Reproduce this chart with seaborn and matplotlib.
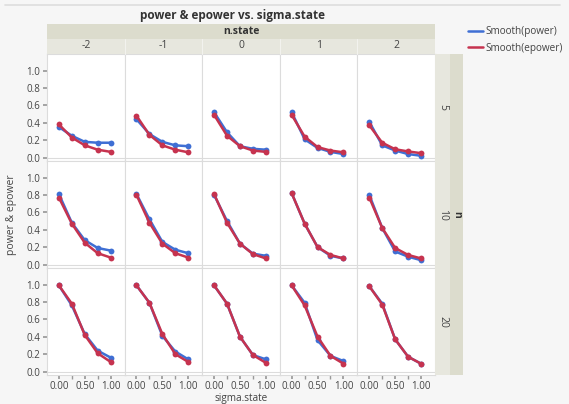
import numpy as np
import pandas as pd
import seaborn as sns
import matplotlib.pyplot as plt
from matplotlib.patches import Rectangle
from matplotlib.lines import Line2D

# data
sigma = [0.0, 0.25, 0.5, 0.75, 1.0]
n_state = [-2, -1, 0, 1, 2]
n_vals = [5, 10, 20]

power_n5 = [[0.35, 0.25, 0.18, 0.17, 0.17],
            [0.44, 0.27, 0.18, 0.14, 0.13],
            [0.52, 0.29, 0.13, 0.10, 0.09],
            [0.52, 0.21, 0.11, 0.065, 0.04],
            [0.41, 0.14, 0.08, 0.04, 0.02]]
epower_n5 = [[0.38, 0.23, 0.14, 0.09, 0.065],
             [0.48, 0.26, 0.14, 0.09, 0.06],
             [0.49, 0.25, 0.13, 0.08, 0.065],
             [0.49, 0.24, 0.12, 0.08, 0.06],
             [0.37, 0.17, 0.095, 0.07, 0.05]]
power_n10 = [[0.81, 0.48, 0.28, 0.19, 0.16],
             [0.81, 0.52, 0.26, 0.17, 0.13],
             [0.80, 0.50, 0.24, 0.125, 0.10],
             [0.82, 0.47, 0.20, 0.10, 0.07],
             [0.80, 0.42, 0.15, 0.09, 0.05]]
epower_n10 = [[0.77, 0.47, 0.25, 0.13, 0.08],
              [0.80, 0.48, 0.24, 0.13, 0.08],
              [0.81, 0.48, 0.24, 0.12, 0.07],
              [0.82, 0.47, 0.20, 0.11, 0.07],
              [0.77, 0.42, 0.19, 0.11, 0.07]]
power_n20 = [[0.99, 0.76, 0.43, 0.24, 0.16],
             [0.99, 0.79, 0.41, 0.23, 0.14],
             [0.99, 0.78, 0.40, 0.19, 0.14],
             [0.99, 0.79, 0.36, 0.18, 0.12],
             [0.98, 0.78, 0.37, 0.17, 0.09]]
epower_n20 = [[0.99, 0.78, 0.42, 0.21, 0.11],
              [0.99, 0.79, 0.43, 0.20, 0.11],
              [0.99, 0.78, 0.40, 0.19, 0.10],
              [0.99, 0.76, 0.40, 0.18, 0.09],
              [0.98, 0.77, 0.37, 0.17, 0.09]]

power = {5: power_n5, 10: power_n10, 20: power_n20}
epower = {5: epower_n5, 10: epower_n10, 20: epower_n20}

rows = []
for n in n_vals:
    for j, ns in enumerate(n_state):
        for k, s in enumerate(sigma):
            rows.append((n, ns, s, "Smooth(power)", power[n][j][k]))
            rows.append((n, ns, s, "Smooth(epower)", epower[n][j][k]))
df = pd.DataFrame(rows, columns=["n", "n.state", "sigma.state", "series", "value"])

sns.set_theme(style="white")
plt.rcParams["font.family"] = ["Open Sans", "DejaVu Sans"]

BLUE = "#3f6fd4"
RED = "#c6334f"
palette = {"Smooth(power)": BLUE, "Smooth(epower)": RED}
W, H = 569, 404
BG = "#f6f6f6"
TXT = "#444444"
GRID = "#dcdcdc"

fig, axes = plt.subplots(3, 5, figsize=(W / 100, H / 100), dpi=100, sharex=True, sharey=True)
fig.patch.set_facecolor(BG)
L, R, T, B = 47, 435, 54, 375
fig.subplots_adjust(left=L / W, right=R / W, top=1 - T / H, bottom=1 - B / H, wspace=0, hspace=0)

for i, n in enumerate(n_vals):
    for j, ns in enumerate(n_state):
        ax = axes[i, j]
        ax.set_facecolor("white")
        sub = df[(df["n"] == n) & (df["n.state"] == ns)]
        ax.axhline(0, color=GRID, lw=0.8, zorder=0)
        sns.lineplot(data=sub, x="sigma.state", y="value", hue="series",
                     hue_order=["Smooth(power)", "Smooth(epower)"], palette=palette,
                     marker="o", markersize=4.2, markeredgewidth=0, lw=1.8,
                     legend=False, ax=ax)
        ax.set_xlim(-0.23, 1.27)
        ax.set_ylim(-0.04, 1.19)
        ax.set_xlabel("")
        ax.set_ylabel("")
        for sp in ax.spines.values():
            sp.set_color(GRID)
            sp.set_linewidth(0.8)
        ax.set_yticks([0, 0.2, 0.4, 0.6, 0.8, 1.0])
        ax.set_xticks([0, 0.5, 1.0])
        ax.set_xticks([0.25, 0.75], minor=True)
        ax.tick_params(axis="both", labelsize=7, colors=TXT, length=0, pad=2)
        ax.tick_params(axis="y", left=(j == 0), length=3, color="#999999")
        ax.tick_params(axis="x", which="both", bottom=(i == 2), length=3, pad=1,
                       color="#999999")
        ax.yaxis.set_major_formatter(plt.FuncFormatter(lambda v, p: f"{v:.1f}"))
        ax.xaxis.set_major_formatter(plt.FuncFormatter(lambda v, p: f"{v:.2f}"))

# strips
def frect(x0, y0, x1, y1, color):
    fig.patches.append(Rectangle((x0 / W, 1 - y1 / H), (x1 - x0) / W, (y1 - y0) / H,
                                 transform=fig.transFigure, facecolor=color,
                                 edgecolor="none", zorder=0))

frect(L, 24, R, 39, "#dcdccd")
frect(L, 39, R, T, "#e7e7de")
frect(R, T, 450, B, "#e7e7de")
frect(450, T, 463, B, "#dcdccd")
fig.text((L + R) / 2 / W, 1 - 31.5 / H, "n.state", ha="center", va="center",
         fontsize=7.5, fontweight="bold", color="#333333")
colw = (R - L) / 5
for j, ns in enumerate(n_state):
    fig.text((L + colw * (j + 0.5)) / W, 1 - 46 / H, str(ns), ha="center", va="center",
             fontsize=7.5, color=TXT)
    if j > 0:
        fig.lines.append(Line2D([(L + colw * j) / W] * 2, [1 - 39 / H, 1 - T / H],
                                transform=fig.transFigure, color="#f2f2ee", lw=0.8))
rowh = (B - T) / 3
for i, n in enumerate(n_vals):
    fig.text(442.5 / W, 1 - (T + rowh * (i + 0.5)) / H, str(n), ha="center", va="center",
             rotation=270, fontsize=7.5, color=TXT)
fig.text(456.5 / W, 1 - (T + rowh * 1.5) / H, "n", ha="center", va="center",
         rotation=270, fontsize=7.5, fontweight="bold", color="#333333")

# titles / labels
fig.lines.append(Line2D([5 / W, 560 / W], [1 - 5 / H] * 2, transform=fig.transFigure,
                        color="#dddddd", lw=1.2))
fig.text(232 / W, 1 - 15 / H, "power & epower vs. sigma.state", ha="center", va="center",
         fontsize=8.5, fontweight="bold", color="#333333")
fig.text(12 / W, 1 - (T + B) / 2 / H, "power & epower", ha="center", va="center",
         rotation=90, fontsize=7.5, color=TXT)
fig.text(241 / W, 1 - 398.5 / H, "sigma.state", ha="center", va="center",
         fontsize=7.2, color=TXT)

handles = [Line2D([], [], color=BLUE, lw=1.8), Line2D([], [], color=RED, lw=1.8)]
fig.legend(handles, ["Smooth(power)", "Smooth(epower)"], loc="upper left",
           bbox_to_anchor=(468 / W, 1 - 26 / H), frameon=False, fontsize=7.2,
           handlelength=1.5, handletextpad=0.2, labelspacing=0.55, borderaxespad=0,
           borderpad=0, labelcolor=TXT)

fig.savefig("out.png", dpi=100, facecolor=BG)
